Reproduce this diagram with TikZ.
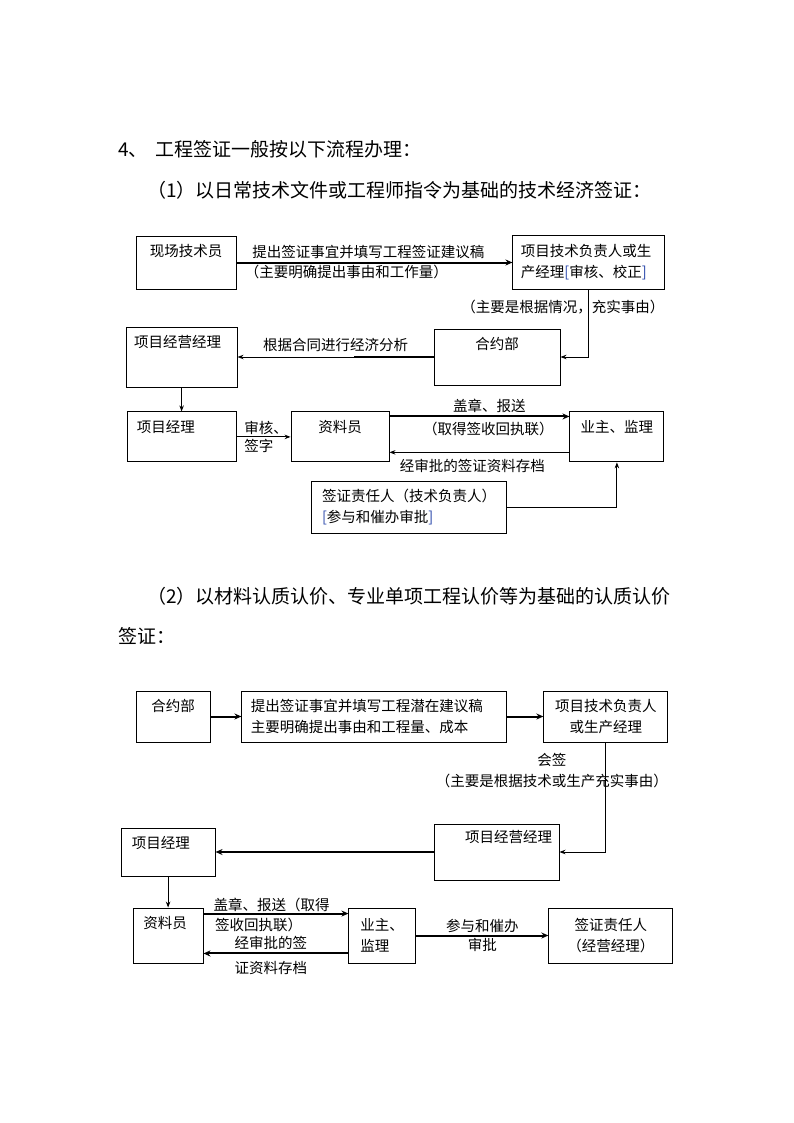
\documentclass[tikz,border=0pt]{standalone}
\usepackage{fontspec}
\usepackage{xcolor}
\usepackage{tikz}
\usetikzlibrary{arrows.meta, positioning}
\newfontfamily\cjk{Noto Sans CJK SC}
\definecolor{bracketblue}{RGB}{40, 70, 170}
\newcommand{\bxfont}{\cjk\fontsize{14.5pt}{21pt}\selectfont}
\newcommand{\hdfont}{\cjk\fontsize{19pt}{24pt}\selectfont}

\begin{document}
\begin{tikzpicture}[
    x=1pt, y=-1pt,
    box/.style={rectangle, draw, line width=0.9pt, inner sep=0pt, align=center, font=\bxfont},
    lbl/.style={font=\bxfont, anchor=north, inner sep=0pt, yshift=-8.5pt},
    edgetext/.style={font=\bxfont, inner sep=2pt},
    arrow/.style={-{Stealth[length=6pt, width=4.5pt]}, line width=0.9pt},
    thickarrow/.style={-{Stealth[length=7pt, width=6pt]}, line width=2pt},
    heading/.style={font=\hdfont, anchor=west, inner sep=0pt}
]
    \fill[white] (0,0) rectangle (794,1123);
    \useasboundingbox (0,0) rectangle (794,1123);

    % Headings
    \node[heading] (title) at (118,149) {4、\hspace{0.4em}工程签证一般按以下流程办理：};
    \node[heading] (sub1) at (147,190) {（1）以日常技术文件或工程师指令为基础的技术经济签证：};
    \node[heading] (sub2a) at (147,596) {（2）以材料认质认价、专业单项工程认价等为基础的认质认价};
    \node[heading] (sub2b) at (118,636) {签证：};

    % Part 1 boxes
    \node[box, minimum width=100pt, minimum height=53pt, label={[lbl]north:现场技术员}] (xc) at (186,262.5) {};
    \node[box, minimum width=152pt, minimum height=54pt, text width=136pt, align=left, right=276pt of xc] (jsfz)
        {项目技术负责人或生\\产经理\textcolor{bracketblue}{[}审核、校正\textcolor{bracketblue}{]}};
    \node[box, minimum width=126pt, minimum height=56pt, label={[lbl]north:合约部}] (hyb) at (497,357) {};
    \node[box, minimum width=111pt, minimum height=60pt, label={[lbl, xshift=-4pt]north:项目经营经理}, left=196pt of hyb] (jyjl) {};
    \node[box, minimum width=109pt, minimum height=50pt, label={[lbl, anchor=north west, xshift=10pt]north west:项目经理}, below=24pt of jyjl] (xmjl) {};
    \node[box, minimum width=98pt, minimum height=50pt, label={[lbl]north:资料员}, right=54pt of xmjl] (zly) {};
    \node[box, minimum width=94pt, minimum height=50pt, label={[lbl]north:业主、监理}, right=180pt of zly] (yz) {};
    \node[box, minimum width=195pt, minimum height=52pt, text width=173pt, align=left] (qzr) at (408.5,507)
        {签证责任人（技术负责人）\\\textcolor{bracketblue}{[}参与和催办审批\textcolor{bracketblue}{]}};

    % Part 1 arrows
    \draw[thickarrow] (xc) -- node[edgetext, pos=0.045, anchor=south west, inner sep=2.5pt] {提出签证事宜并填写工程签证建议稿}
        node[edgetext, pos=0.02, anchor=north west] {（主要明确提出事由和工作量）} (jsfz);
    \draw[arrow] (jsfz.south) |- node[edgetext, pos=0.13, xshift=-26pt] {（主要是根据情况，充实事由）} (hyb.east);
    \draw[arrow] (hyb.west) -- node[edgetext, above=3pt] {根据合同进行经济分析} (hyb.west -| jyjl.east);
    \draw[line width=2pt] (hyb.west) -- ++(-80,0);
    \draw[arrow, line width=1.5pt] (jyjl) -- (xmjl);
    \draw[arrow] (xmjl) -- node[edgetext, pos=0.1, anchor=south west] {审核、}
        node[edgetext, pos=0.1, anchor=north west] {签字} (zly);
    \draw[thickarrow] ([yshift=-5pt]zly.north east) -- node[edgetext, above=0.5pt, xshift=10pt] {盖章、报送}
        node[edgetext, below=3pt, xshift=9pt] {（取得签收回执联）} ([yshift=-5pt]zly.north east -| yz.west);
    \draw[arrow] ([yshift=10pt]yz.south west) -- node[edgetext, below=4pt, xshift=-7pt] {经审批的签证资料存档}
        ([yshift=10pt]yz.south west -| zly.east);
    \draw[arrow] (qzr.east) -| (yz.south);

    % Part 2 boxes
    \node[box, minimum width=74pt, minimum height=51pt, label={[lbl]north:合约部}] (hyb2) at (173,716.5) {};
    \node[box, minimum width=265pt, minimum height=51pt, text width=247pt, align=left, right=31pt of hyb2] (tc)
        {提出签证事宜并填写工程潜在建议稿\\主要明确提出事由和工程量、成本};
    \node[box, minimum width=124pt, minimum height=51pt, right=36pt of tc] (jsfz2) {项目技术负责人\\或生产经理};
    \node[box, minimum width=125pt, minimum height=56pt, label={[lbl, yshift=1.5pt, xshift=12pt]north:项目经营经理}] (jyjl2) at (496.5,852) {};
    \node[box, minimum width=94pt, minimum height=48pt, label={[lbl, anchor=north west, xshift=11pt]north west:项目经理}, left=218pt of jyjl2] (xmjl2) {};
    \node[box, minimum width=70pt, minimum height=55pt, label={[lbl, xshift=-3pt]north:资料员}] (zly2) at (168,935.5) {};
    \node[box, minimum width=67pt, minimum height=55pt, text width=44pt, align=left, right=145pt of zly2] (yz2) {业主、\\监理};
    \node[box, minimum width=124pt, minimum height=55pt, right=132pt of yz2] (qzr2) {签证责任人\\（经营经理）};

    % Part 2 arrows
    \draw[thickarrow] (hyb2) -- (tc);
    \draw[thickarrow] (tc) -- (jsfz2);
    \draw[arrow] (jsfz2.south) |- node[edgetext, pos=0.127, xshift=-54pt, align=center] {会签\\（主要是根据技术或生产充实事由）} (jyjl2.east);
    \draw[thickarrow] (jyjl2) -- (xmjl2);
    \draw[arrow] (xmjl2.south) -- (xmjl2.south |- zly2.north);
    \draw[thickarrow] ([yshift=-6pt]zly2.north east) -- node[edgetext, pos=0.06, anchor=south west, inner sep=0.5pt] {盖章、报送（取得}
        node[edgetext, pos=0.06, anchor=north west, yshift=-2pt] {签收回执联）} ([yshift=-6pt]zly2.north east -| yz2.west);
    \draw[thickarrow] ([yshift=10pt]yz2.south west) -- node[edgetext, above=0.5pt, xshift=-5pt] {经审批的签}
        node[edgetext, below=5pt, xshift=-5pt] {证资料存档} ([yshift=10pt]yz2.south west -| zly2.east);
    \draw[thickarrow] (yz2) -- node[edgetext, above] {参与和催办} node[edgetext, below] {审批} (qzr2);
\end{tikzpicture}
\end{document}
